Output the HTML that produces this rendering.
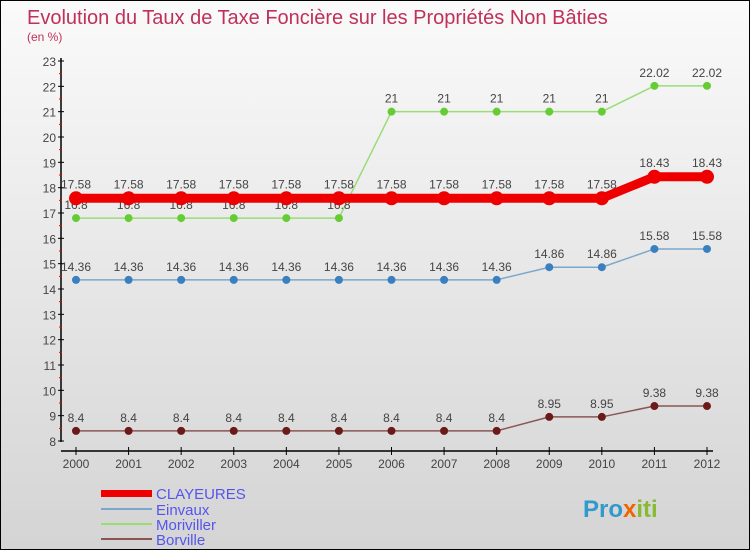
<!DOCTYPE html>
<html><head><meta charset="utf-8"><style>
body{margin:0}
#c{width:750px;height:550px;position:relative;overflow:hidden;box-sizing:border-box;border:1px solid #000;background:linear-gradient(#fafafa,#d4d4d4);font-family:"Liberation Sans",sans-serif}
</style></head><body>
<div id="c">
<svg id="s" width="750" height="550" style="position:absolute;left:0;top:0">
<text x="26" y="23" font-size="20" fill="#c0305a">Evolution du Taux de Taxe Foncière sur les Propriétés Non Bâties</text>
<text x="26" y="40" font-size="12" fill="#c0305a">(en %)</text>
<g id="g"></g>
<g>
<rect x="100" y="489" width="51" height="7" fill="#ee0000"/>
<text x="155" y="498" font-size="15" fill="#5555ee">CLAYEURES</text>
<rect x="100" y="507" width="51" height="2" fill="#7aa8cc"/>
<text x="155" y="514" font-size="15" fill="#5555ee">Einvaux</text>
<rect x="100" y="522" width="51" height="2" fill="#99dd77"/>
<text x="155" y="529" font-size="15" fill="#5555ee">Moriviller</text>
<rect x="100" y="537" width="51" height="2" fill="#8b5555"/>
<text x="155" y="544" font-size="15" fill="#5555ee">Borville</text>
</g>
<text x="582" y="516" font-size="24" font-weight="bold" fill="#3399cc">Pro<tspan fill="#ee6600">x</tspan><tspan fill="#88bb33">iti</tspan></text>
</svg>
</div>
<script>
const years=[2000,2001,2002,2003,2004,2005,2006,2007,2008,2009,2010,2011,2012];
const yTicks=[8,9,10,11,12,13,14,15,16,17,18,19,20,21,22,23];
const clayeures=[17.58,17.58,17.58,17.58,17.58,17.58,17.58,17.58,17.58,17.58,17.58,18.43,18.43];
const einvaux=[14.36,14.36,14.36,14.36,14.36,14.36,14.36,14.36,14.36,14.86,14.86,15.58,15.58];
const moriviller=[16.8,16.8,16.8,16.8,16.8,16.8,21,21,21,21,21,22.02,22.02];
const borville=[8.4,8.4,8.4,8.4,8.4,8.4,8.4,8.4,8.4,8.95,8.95,9.38,9.38];
const X=i=>75+i*(706-75)/(years.length-1);
const Y=v=>440-(v-8)*(380/15);
const g=document.getElementById('g');
const NS='http://www.w3.org/2000/svg';
function mk(t,a){const e=document.createElementNS(NS,t);for(const k in a)e.setAttribute(k,a[k]);g.appendChild(e);return e;}
let e=mk('line',{x1:60,y1:57,x2:60,y2:441,stroke:'#000','stroke-width':1.5});


e=mk('line',{x1:60,y1:450,x2:712,y2:450,stroke:'#000','stroke-width':1.5});


yTicks.forEach(v=>{
 e=mk('line',{x1:57,y1:Y(v),x2:63,y2:Y(v),stroke:'#000'});
 
 
 if(v<23){e=mk('line',{x1:58,y1:Y(v+0.5),x2:61,y2:Y(v+0.5),stroke:'#e00'});
 
 }
 e=mk('text',{x:55,y:Y(v)+5,'font-size':12,fill:'#444','text-anchor':'end'});
 e.textContent=v;
 
 
});
years.forEach((yr,i)=>{
 e=mk('line',{x1:X(i),y1:446,x2:X(i),y2:454,stroke:'#000'});
 
 
 e=mk('text',{x:X(i),y:467,'font-size':12,fill:'#444','text-anchor':'middle'});
 e.textContent=yr;
 
 
});
function series(name,vals,col,pt,w,r,lab){
 e=mk('polyline',{points:vals.map((v,i)=>X(i)+','+Y(v)).join(' '),fill:'none',stroke:col,'stroke-width':w});
 
 
 vals.forEach((v,i)=>{
  e=mk('circle',{cx:X(i),cy:Y(v),r:r,fill:pt});
  
  
  e=mk('text',{x:X(i),y:Y(v)-lab,'font-size':12,fill:'#444','text-anchor':'middle'});
  e.textContent=v;
  
  
 });
}
series('borville',borville,'#8b5555','#6b1a1a',1.5,4,9);
series('einvaux',einvaux,'#7aa8cc','#3a7fbf',1.5,4,9);
series('moriviller',moriviller,'#99dd77','#66cc33',1.5,4,9);
series('clayeures',clayeures,'#ee0000','#ee0000',9,7,10);
</script>
</body></html>
